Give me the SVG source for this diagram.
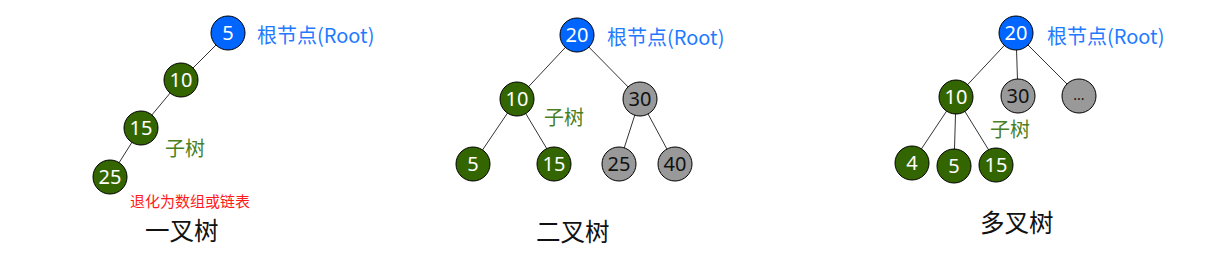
<svg xmlns="http://www.w3.org/2000/svg" width="1220" height="262" viewBox="0 0 1220 262">
<style>
  .edge { stroke: #333; stroke-width: 1; fill: none; }
  .n circle { stroke: #000; stroke-width: 1; }
  .root circle { fill: #0066ff; }
  .sub circle { fill: #336600; }
  .other circle { fill: #999999; }
  .n text { font-family: "Noto Sans", "Open Sans", sans-serif; font-size: 20px; text-anchor: middle; dominant-baseline: central; }
  .root text, .sub text { fill: #fff; }
  .other text { fill: #111; }
  .lbl { font-family: "Noto Sans CJK SC", "Noto Sans", sans-serif; }
  .rl { fill: #1f7aff; font-size: 20px; }
  .sl { fill: #4a7f1f; font-size: 20px; }
  .red { fill: #ff1a1a; font-size: 15px; }
  .title { fill: #111; font-size: 24.5px; }
</style>
<g id="connectors">
  <line class="edge" x1="228" y1="33" x2="181" y2="80"/>
  <line class="edge" x1="181" y1="80" x2="141" y2="128"/>
  <line class="edge" x1="141" y1="128" x2="110" y2="177"/>
  <line class="edge" x1="577" y1="35" x2="517" y2="99"/>
  <line class="edge" x1="577" y1="35" x2="640" y2="99"/>
  <line class="edge" x1="517" y1="99" x2="473" y2="164"/>
  <line class="edge" x1="517" y1="99" x2="556" y2="164"/>
  <line class="edge" x1="640" y1="99" x2="619" y2="164"/>
  <line class="edge" x1="640" y1="99" x2="675" y2="164"/>
  <line class="edge" x1="1016" y1="33" x2="956" y2="97"/>
  <line class="edge" x1="1016" y1="33" x2="1018" y2="96"/>
  <line class="edge" x1="1016" y1="33" x2="1079" y2="96"/>
  <line class="edge" x1="956" y1="97" x2="912" y2="163"/>
  <line class="edge" x1="956" y1="97" x2="954" y2="166"/>
  <line class="edge" x1="956" y1="97" x2="998" y2="165"/>
</g>
<g id="t1-n5" class="n root"><circle cx="228" cy="33" r="17"/><text x="228" y="32">5</text></g>
<g id="t1-n10" class="n sub"><circle cx="181" cy="80" r="17"/><text x="181" y="79">10</text></g>
<g id="t1-n15" class="n sub"><circle cx="141" cy="128" r="17"/><text x="141" y="127">15</text></g>
<g id="t1-n25" class="n sub"><circle cx="110" cy="177" r="17"/><text x="110" y="176">25</text></g>
<g id="t1-labels">
  <text class="lbl rl" x="257" y="43">根节点(Root)</text>
  <text class="lbl sl" x="165" y="156">子树</text>
  <text class="lbl red" x="130" y="207">退化为数组或链表</text>
  <text class="lbl title" x="145" y="240">一叉树</text>
</g>
<g id="t2-n20" class="n root"><circle cx="577" cy="35" r="17"/><text x="577" y="34">20</text></g>
<g id="t2-n10" class="n sub"><circle cx="517" cy="99" r="17"/><text x="517" y="98">10</text></g>
<g id="t2-n30" class="n other"><circle cx="640" cy="99" r="17"/><text x="640" y="98">30</text></g>
<g id="t2-n5" class="n sub"><circle cx="473" cy="164" r="17"/><text x="473" y="163">5</text></g>
<g id="t2-n15" class="n sub"><circle cx="554" cy="164" r="17"/><text x="554" y="163">15</text></g>
<g id="t2-n25" class="n other"><circle cx="619" cy="164" r="17"/><text x="619" y="163">25</text></g>
<g id="t2-n40" class="n other"><circle cx="675" cy="164" r="17"/><text x="675" y="163">40</text></g>
<g id="t2-labels">
  <text class="lbl rl" x="607" y="45">根节点(Root)</text>
  <text class="lbl sl" x="544" y="125">子树</text>
  <text class="lbl title" x="536" y="241">二叉树</text>
</g>
<g id="t3-n20" class="n root"><circle cx="1016" cy="33" r="17"/><text x="1016" y="32">20</text></g>
<g id="t3-n10" class="n sub"><circle cx="956" cy="97" r="17"/><text x="956" y="96">10</text></g>
<g id="t3-n30" class="n other"><circle cx="1018" cy="96" r="17"/><text x="1018" y="95">30</text></g>
<g id="t3-nmore" class="n other"><circle cx="1079" cy="96" r="17"/><text x="1079" y="94" style="font-size:14px">...</text></g>
<g id="t3-n4" class="n sub"><circle cx="912" cy="163" r="17"/><text x="912" y="162">4</text></g>
<g id="t3-n5" class="n sub"><circle cx="954" cy="166" r="17"/><text x="954" y="165">5</text></g>
<g id="t3-n15" class="n sub"><circle cx="996" cy="165" r="17"/><text x="996" y="164">15</text></g>
<g id="t3-labels">
  <text class="lbl rl" x="1047" y="44">根节点(Root)</text>
  <text class="lbl sl" x="990" y="137">子树</text>
  <text class="lbl title" x="980" y="232">多叉树</text>
</g>
</svg>
